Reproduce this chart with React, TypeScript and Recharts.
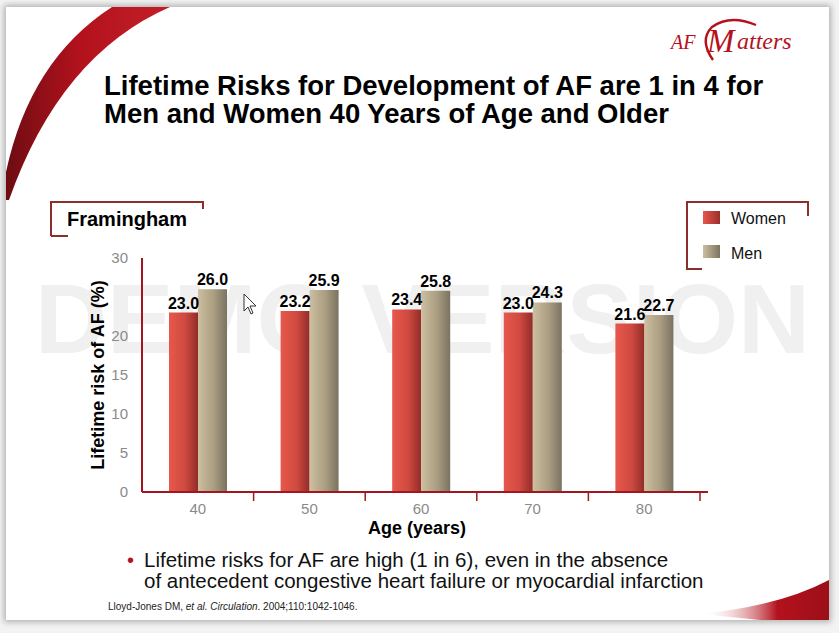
import React from 'react';
import { BarChart, Bar, XAxis, YAxis, LabelList, Legend, Label } from 'recharts';

const ages = ['40', '50', '60', '70', '80'];
const women = [23.0, 23.2, 23.4, 23.0, 21.6];
const men = [26.0, 25.9, 25.8, 24.3, 22.7];
const yTicks = [0, 5, 10, 15, 20, 30];

const FONT = '"Liberation Sans", Arial, sans-serif';
const AXIS = '#a3151f';
const BRACKET = '#8c2f2c';

const chartData = ages.map((age, i) => ({ age, Women: women[i], Men: men[i] }));

const AgeTick = (props: any) => {
  const { x, y, payload } = props;
  const half = payload.offset ?? 0;
  return (
    <g>
      <line x1={x + half} y1={y} x2={x + half} y2={y + 9} stroke={AXIS} strokeWidth={1.5} />
      <text x={x} y={y + 22} textAnchor="middle" fill="#8a8a8a" fontSize={15} fontFamily={FONT}>
        {payload.value}
      </text>
    </g>
  );
};

const LegendBox = () => (
  <svg width={126} height={72} style={{ display: 'block', overflow: 'visible' }}>
    <defs>
      <linearGradient id="lgW" x1="0" y1="0" x2="1" y2="0">
        <stop offset="0%" stopColor="#e8574c" />
        <stop offset="100%" stopColor="#9a2e2a" />
      </linearGradient>
      <linearGradient id="lgM" x1="0" y1="0" x2="1" y2="0">
        <stop offset="0%" stopColor="#cdbf9f" />
        <stop offset="100%" stopColor="#7b7462" />
      </linearGradient>
    </defs>
    <polyline points="1,14 1,1 122,1 122,15" fill="none" stroke={BRACKET} strokeWidth={2} />
    <polyline points="1,14 1,68 16,68" fill="none" stroke={BRACKET} strokeWidth={2} />
    <rect x={17} y={10} width={17} height={13} fill="url(#lgW)" />
    <text x={45} y={23} fontSize={16} fontFamily={FONT} fill="#111">Women</text>
    <rect x={17} y={44} width={17} height={13} fill="url(#lgM)" />
    <text x={45} y={58} fontSize={16} fontFamily={FONT} fill="#111">Men</text>
  </svg>
);

export default function App() {
  return (
    <div style={{ position: 'absolute', left: 0, top: 0, width: 839, height: 633, background: '#f3f3f3', overflow: 'hidden', fontFamily: FONT }}>
      {/* slide */}
      <div style={{ position: 'absolute', left: 6, top: 7, width: 823, height: 613, background: '#fff', boxShadow: '0 0 6px 2px rgba(0,0,0,0.28)' }} />
      <svg width={839} height={633} style={{ position: 'absolute', left: 0, top: 0 }}>
        <defs>
          <linearGradient id="swoosh" x1="0" y1="0" x2="1" y2="0">
            <stop offset="0%" stopColor="#6e0c12" />
            <stop offset="45%" stopColor="#b3121d" />
            <stop offset="100%" stopColor="#c21f28" />
          </linearGradient>
          <linearGradient id="swoosh2" x1="0" y1="0" x2="1" y2="0">
            <stop offset="0%" stopColor="#ffffff" stopOpacity={0} />
            <stop offset="60%" stopColor="#b3121d" />
            <stop offset="100%" stopColor="#9c0f19" />
          </linearGradient>
        </defs>
        {/* top-left swoosh */}
        <path d="M 112 7 L 170 7 Q 60 55 9 200 L 6 200 L 6 172 Q 30 60 112 7 Z" fill="url(#swoosh)" />
        {/* bottom-right swoosh */}
        <path d="M 700 614 Q 780 606 829 580 L 829 620 L 760 620 Q 730 617 700 614 Z" fill="url(#swoosh2)" />
        {/* watermark */}
        <text x={35} y={353} fontSize={99} fontWeight="bold" fill="#f0f0f0" fontFamily={FONT} textLength={775} lengthAdjust="spacingAndGlyphs">
          DEMO VERSION
        </text>
        {/* logo */}
        <g fill="#b5121d" fontFamily='"Liberation Serif", "DejaVu Serif", serif' fontStyle="italic">
          <text x={671} y={49} fontSize={20}>AF</text>
          <text x={707} y={52} fontSize={33}>M</text>
          <text x={737} y={49} fontSize={24}>atters</text>
          <path d="M 713 60 Q 699 40 712 27 Q 730 14 756 25" fill="none" stroke="#b5121d" strokeWidth={2.4} />
        </g>
        {/* title */}
        <text fontSize={27.5} fontWeight="bold" fill="#000" fontFamily={FONT}>
          <tspan x={104} y={95}>Lifetime Risks for Development of AF are 1 in 4 for</tspan>
          <tspan x={104} y={123}>Men and Women 40 Years of Age and Older</tspan>
        </text>
        {/* Framingham bracket */}
        <polyline points="51,236 51,202 203,202 203,209" fill="none" stroke={BRACKET} strokeWidth={2} />
        <line x1={51} y1={236} x2={68} y2={236} stroke={BRACKET} strokeWidth={2} />
        <text x={67} y={226} fontSize={20} fontWeight="bold" fill="#000" fontFamily={FONT}>Framingham</text>
        {/* bullet */}
        <text x={127} y={567} fontSize={20} fill="#b5121d" fontFamily={FONT}>•</text>
        <text fontSize={20.5} fill="#111" fontFamily={FONT}>
          <tspan x={144} y={567}>Lifetime risks for AF are high (1 in 6), even in the absence</tspan>
          <tspan x={144} y={588}>of antecedent congestive heart failure or myocardial infarction</tspan>
        </text>
        <text x={108} y={610} fontSize={10} fill="#222" fontFamily={FONT}>
          Lloyd-Jones DM, <tspan fontStyle="italic">et al. Circulation</tspan>. 2004;110:1042-1046.
        </text>
      </svg>

      <div style={{ position: 'absolute', left: 0, top: 0 }}>
        <BarChart
          width={839}
          height={633}
          data={chartData}
          margin={{ top: 258, right: 131, left: 54, bottom: 95 }}
          barGap={0}
          barSize={29}
        >
          <defs>
            <linearGradient id="gWomen" x1="0" y1="0" x2="1" y2="0">
              <stop offset="0%" stopColor="#e8574c" />
              <stop offset="55%" stopColor="#cf4a40" />
              <stop offset="100%" stopColor="#922c29" />
            </linearGradient>
            <linearGradient id="gMen" x1="0" y1="0" x2="1" y2="0">
              <stop offset="0%" stopColor="#cdbf9f" />
              <stop offset="55%" stopColor="#aa9d81" />
              <stop offset="100%" stopColor="#7a7361" />
            </linearGradient>
          </defs>
          <XAxis
            dataKey="age"
            height={46}
            axisLine={{ stroke: AXIS, strokeWidth: 2 }}
            tickLine={false}
            tickSize={0}
            tickMargin={0}
            tick={<AgeTick />}
            padding={{ left: 0, right: 8 }}
          >
            <Label value="Age (years)" position="insideBottom" offset={4} fill="#000" fontSize={18} fontWeight="bold" fontFamily={FONT} dx={-8} />
          </XAxis>
          <YAxis
            width={88}
            domain={[0, 30]}
            ticks={yTicks}
            interval={0}
            axisLine={{ stroke: AXIS, strokeWidth: 2 }}
            tickLine={false}
            tickMargin={8}
            tick={{ fill: '#8a8a8a', fontSize: 15, fontFamily: FONT }}
          >
            <Label value="Lifetime risk of AF (%)" angle={-90} position="center" fill="#000" fontSize={18} fontWeight="bold" fontFamily={FONT} />
          </YAxis>
          <Legend
            layout="vertical"
            align="center"
            verticalAlign="middle"
            content={<LegendBox />}
            wrapperStyle={{ position: 'absolute', left: 686, top: 201, width: 126, height: 72 }}
          />
          <Bar dataKey="Women" fill="url(#gWomen)" isAnimationActive={false}>
            <LabelList dataKey="Women" position="top" offset={4} formatter={(v: any) => Number(v).toFixed(1)} fill="#000" fontSize={16} fontWeight="bold" fontFamily={FONT} />
          </Bar>
          <Bar dataKey="Men" fill="url(#gMen)" isAnimationActive={false}>
            <LabelList dataKey="Men" position="top" offset={4} formatter={(v: any) => Number(v).toFixed(1)} fill="#000" fontSize={16} fontWeight="bold" fontFamily={FONT} />
          </Bar>
        </BarChart>
      </div>

      {/* mouse pointer */}
      <svg width={839} height={633} style={{ position: 'absolute', left: 0, top: 0, pointerEvents: 'none' }}>
        <path d="M 244 294 L 244 311 L 248 307 L 251 314 L 253 313 L 250 306 L 256 306 Z" fill="#fff" stroke="#333" strokeWidth={1} />
      </svg>
    </div>
  );
}
